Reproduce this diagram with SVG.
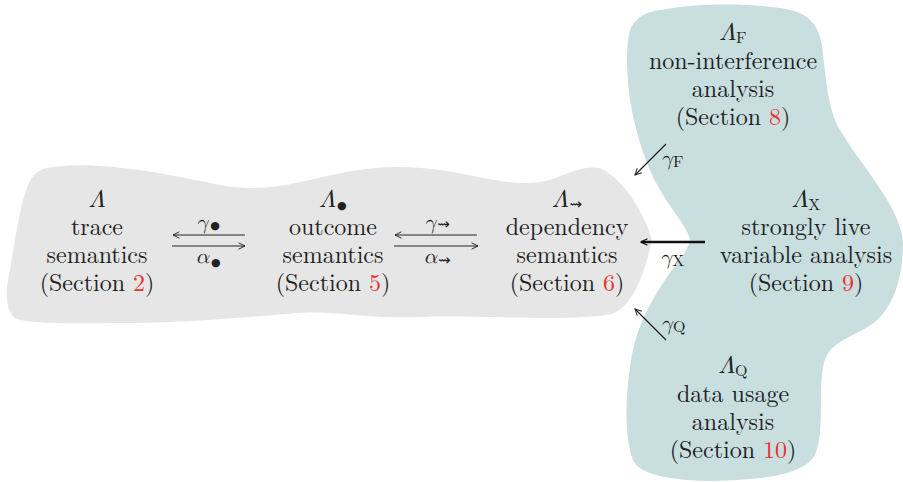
<svg xmlns="http://www.w3.org/2000/svg" width="903" height="482" viewBox="0 0 903 482">
<defs>
<style>
text{font-family:"Latin Modern Roman","Liberation Serif",serif;font-size:24px;fill:#222;text-anchor:middle}
.it{font-family:"Latin Modern Math","DejaVu Serif",serif;font-style:italic}
.lbl{font-size:21px}
.sub{font-size:16px}
.dot{font-family:"DejaVu Sans",sans-serif;font-size:11px}
.sq{font-family:"DejaVu Sans",sans-serif;font-size:15px}
.red{fill:#e8322c}
.ln{stroke:#222;stroke-width:1.2;fill:none}
.th{stroke:#111;stroke-width:2.4;fill:none}
</style>
<marker id="ah" viewBox="0 0 10 10" refX="9" refY="5" markerWidth="8" markerHeight="8" markerUnits="userSpaceOnUse" orient="auto"><path d="M1,1 L9,5 L1,9" fill="none" stroke="#222" stroke-width="1.2"/></marker>
<marker id="ah2" viewBox="0 0 10 10" refX="9" refY="5" markerWidth="8" markerHeight="8" markerUnits="userSpaceOnUse" orient="auto"><path d="M1,1 L9,5 L1,9" fill="none" stroke="#111" stroke-width="1.4"/></marker>
</defs>
<g id="regions">
<path d="M47,168 C90,160 150,170 225,186 C290,196 330,166 400,167 C460,168 490,184 530,183 C560,182 575,164 600,168 C625,180 645,215 652,240 C645,270 635,305 612,314 C570,322 470,315 424,317 C360,319 340,310 297,313 C240,318 170,323 127,323 C80,323 30,325 15,318 C5,310 5,290 10,270 C15,240 20,205 28,185 C33,174 38,170 47,168 Z" fill="#e6e6e6"/>
<path d="M660,10 C690,4 740,2 780,8 C810,12 818,25 822,45 C826,80 828,110 840,130 C860,165 900,205 903,242 C903,275 895,305 875,322 C850,340 828,340 823,367 C818,395 825,430 815,455 C805,472 775,480 710,481 C670,480 640,475 633,460 C625,440 625,400 630,367 C634,335 645,310 665,280 C675,265 688,252 690,240 C688,228 675,215 660,190 C645,165 635,130 630,100 C627,75 625,50 630,30 C635,18 645,12 660,10 Z" fill="#c8dedf"/>
</g>
<g id="connectors">
<line class="ln" x1="245" y1="235" x2="173" y2="235" marker-end="url(#ah)"/>
<line class="ln" x1="172" y1="246" x2="245" y2="246" marker-end="url(#ah)"/>
<line class="ln" x1="477" y1="235" x2="395" y2="235" marker-end="url(#ah)"/>
<line class="ln" x1="394" y1="246" x2="478" y2="246" marker-end="url(#ah)"/>
<line class="th" x1="705" y1="242" x2="641" y2="242" marker-end="url(#ah2)"/>
<line class="ln" x1="666" y1="144" x2="635" y2="175" marker-end="url(#ah)"/>
<line class="ln" x1="666" y1="340" x2="635" y2="309" marker-end="url(#ah)"/>
<text x="208" y="229" class="lbl"><tspan class="it">γ</tspan><tspan class="dot" dx="2">●</tspan></text>
<text x="208" y="263" class="lbl"><tspan class="it">α</tspan><tspan class="dot" dx="2" dy="3">●</tspan></text>
<text x="437" y="229" class="lbl"><tspan class="it">γ</tspan><tspan class="sq" dx="1">⇝</tspan></text>
<text x="437" y="263" class="lbl"><tspan class="it">α</tspan><tspan class="sq" dx="1" dy="2">⇝</tspan></text>
<text x="672" y="165" class="lbl"><tspan class="it">γ</tspan><tspan class="sub" dy="2">F</tspan></text>
<text x="672" y="264" class="lbl"><tspan class="it">γ</tspan><tspan class="sub" dy="2">X</tspan></text>
<text x="673" y="330" class="lbl"><tspan class="it">γ</tspan><tspan class="sub" dy="2">Q</tspan></text>
</g>
<g id="trace">
<text x="97" y="207"><tspan class="it">Λ</tspan></text>
<text x="97" y="235">trace</text>
<text x="97" y="263">semantics</text>
<text x="97" y="291">(Section <tspan class="red">2</tspan>)</text>
</g>
<g id="outcome">
<text x="333" y="207"><tspan class="it">Λ</tspan><tspan class="dot" dx="1" dy="2">●</tspan></text>
<text x="333" y="235">outcome</text>
<text x="333" y="263">semantics</text>
<text x="333" y="291">(Section <tspan class="red">5</tspan>)</text>
</g>
<g id="dependency">
<text x="567" y="207"><tspan class="it">Λ</tspan><tspan class="sq" dx="1" dy="2">⇝</tspan></text>
<text x="567" y="235">dependency</text>
<text x="567" y="263">semantics</text>
<text x="567" y="291">(Section <tspan class="red">6</tspan>)</text>
</g>
<g id="noninterference">
<text x="733" y="40"><tspan class="it">Λ</tspan><tspan class="sub" dy="3">F</tspan></text>
<text x="733" y="69">non-interference</text>
<text x="733" y="97">analysis</text>
<text x="733" y="125">(Section <tspan class="red">8</tspan>)</text>
</g>
<g id="stronglylive">
<text x="806" y="207"><tspan class="it">Λ</tspan><tspan class="sub" dy="3">X</tspan></text>
<text x="806" y="235">strongly live</text>
<text x="806" y="263">variable analysis</text>
<text x="806" y="291">(Section <tspan class="red">9</tspan>)</text>
</g>
<g id="datausage">
<text x="733" y="373"><tspan class="it">Λ</tspan><tspan class="sub" dy="3">Q</tspan></text>
<text x="733" y="402">data usage</text>
<text x="733" y="430">analysis</text>
<text x="733" y="458">(Section <tspan class="red">10</tspan>)</text>
</g>
</svg>
